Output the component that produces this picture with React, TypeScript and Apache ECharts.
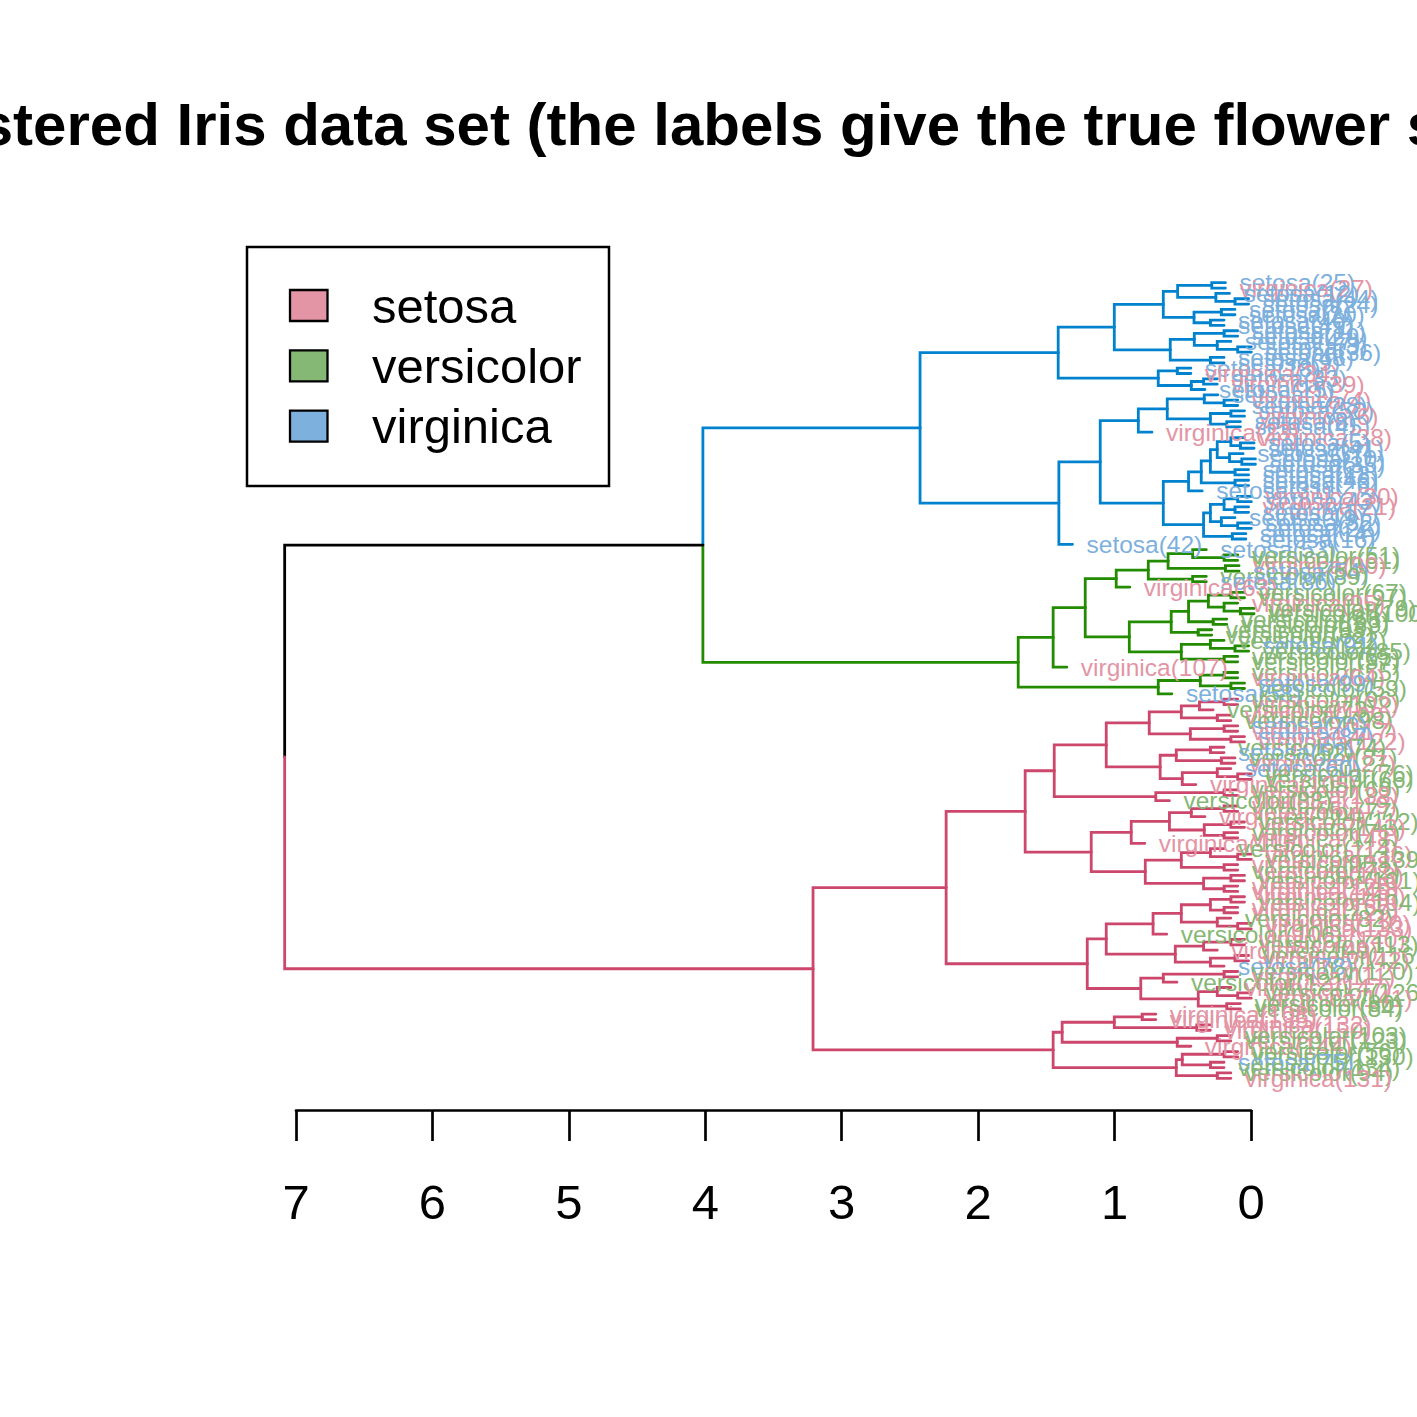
import React, { useRef, useEffect } from 'react'
import * as echarts from 'echarts'

// a node is [height, upper child, lower child]; a leaf is an index into leafLabels
type Tree = number | [number, Tree, Tree]

// leaf labels, top to bottom
const leafLabels = [
  'setosa(25)', 'virginica(27)', 'setosa(12)', 'setosa(44)', 'setosa(24)', 'setosa(7)', 'setosa(20)', 'setosa(40)', 'setosa(49)', 'setosa(11)',
  'setosa(29)', 'setosa(47)', 'setosa(3)', 'setosa(36)', 'setosa(48)', 'setosa(9)', 'setosa(18)', 'virginica(34)', 'setosa(33)', 'virginica(39)',
  'setosa(15)', 'setosa(1)', 'virginica(4)', 'setosa(28)', 'setosa(50)', 'virginica(6)', 'setosa(8)', 'setosa(45)', 'virginica(23)', 'virginica(38)',
  'setosa(5)', 'setosa(41)', 'setosa(37)', 'setosa(10)', 'setosa(35)', 'setosa(2)', 'setosa(13)', 'setosa(46)', 'setosa(26)', 'setosa(31)',
  'virginica(30)', 'setosa(43)', 'virginica(21)', 'setosa(17)', 'setosa(19)', 'setosa(32)', 'setosa(22)', 'setosa(14)', 'setosa(16)', 'setosa(42)',
  'setosa(53)', 'versicolor(51)', 'versicolor(61)', 'virginica(90)', 'setosa(54)', 'versicolor(89)', 'setosa(86)', 'virginica(63)', 'versicolor(67)', 'versicolor(97)',
  'virginica(95)', 'versicolor(79)', 'versicolor(100)', 'versicolor(68)', 'versicolor(83)', 'versicolor(93)', 'versicolor(62)', 'versicolor(92)', 'setosa(91)', 'versicolor(85)',
  'versicolor(65)', 'versicolor(57)', 'virginica(107)', 'versicolor(55)', 'virginica(64)', 'setosa(99)', 'versicolor(59)', 'setosa(58)',
  'versicolor(96)', 'virginica(102)', 'versicolor(73)', 'virginica(109)', 'versicolor(98)', 'setosa(70)', 'virginica(117)', 'setosa(87)', 'virginica(122)', 'versicolor(74)',
  'setosa(52)', 'versicolor(81)', 'virginica(127)', 'setosa(60)', 'versicolor(76)', 'versicolor(66)', 'virginica(105)', 'versicolor(69)', 'virginica(138)', 'versicolor(88)',
  'virginica(119)', 'versicolor(77)', 'virginica(124)', 'versicolor(112)', 'virginica(143)', 'versicolor(71)', 'virginica(148)', 'virginica(115)', 'versicolor(114)', 'virginica(136)',
  'versicolor(139)', 'virginica(128)', 'versicolor(72)', 'virginica(118)', 'versicolor(101)', 'virginica(125)', 'virginica(145)', 'virginica(146)', 'versicolor(104)', 'virginica(137)',
  'virginica(129)', 'versicolor(82)', 'virginica(110)', 'virginica(133)', 'versicolor(106)', 'virginica(140)', 'versicolor(113)', 'virginica(149)', 'versicolor(116)', 'virginica(142)',
  'setosa(78)', 'versicolor(120)', 'virginica(111)', 'versicolor(121)', 'virginica(147)', 'versicolor(126)', 'virginica(141)', 'versicolor(80)', 'versicolor(84)', 'virginica(108)',
  'virginica(135)', 'virginica(132)', 'virginica(150)', 'versicolor(103)', 'versicolor(123)', 'virginica(144)', 'versicolor(56)', 'versicolor(130)', 'setosa(75)', 'versicolor(134)',
  'versicolor(94)', 'virginica(131)',
]

// blue cluster (top)
const topCluster: Tree = [2.427,
  [1.415,
    [1.004,
      [0.645, [0.54, [0.29, 0, 1], [0.26, 2, [0.12, 3, 4]]], [0.42, [0.22, 5, 6], [0.3, 7, 8]]],
      [0.594, [0.418, [0.2, 9, 10], [0.25, 11, [0.1, 12, 13]]], [0.3, 14, 15]]],
    [0.682, [0.543, 16, 17], [0.44, [0.35, 18, 19], 20]]],
  [1.41,
    [1.107,
      [0.828, [0.616, [0.345, 21, [0.2, 22, 23]], [0.3, [0.15, 24, 25], [0.18, 26, 27]]], 28],
      [0.645,
        [0.46, [0.367, [0.3, [0.25, [0.15, 29, [0.08, 30, 31]], [0.16, 32, [0.07, 33, 34]]], [0.12, 35, 36]], [0.12, 37, 38]], 39],
        [0.35, [0.3, [0.2, [0.1, 40, 41], [0.12, 42, 43]], [0.22, 44, [0.1, 45, 46]]], [0.14, 47, 48]]]],
    49]]

// green cluster (middle)
const middleCluster: Tree = [1.708,
  [1.452,
    [1.217,
      [0.99, [0.755, [0.61, [0.43, 50, [0.2, 51, 52]], [0.19, 53, 54]], [0.43, 55, 56]], 57],
      [0.894,
        [0.587, [0.46, [0.315, [0.15, 58, 59], [0.2, 60, [0.08, 61, 62]]], [0.28, 63, 64]], [0.39, 65, 66]],
        [0.513, [0.3, 67, [0.12, 68, 69]], [0.2, 70, 71]]]],
    72],
  [0.682, [0.374, [0.2, 73, 74], [0.15, 75, 76]], 77]]

// pink cluster (bottom)
const bottomCluster: Tree = [3.211,
  [2.236,
    [1.657,
      [1.444,
        [1.063,
          [0.748, [0.513, [0.38, [0.2, 78, 79], 80], [0.25, 81, 82]], [0.447, [0.2, 83, 84], [0.15, 85, 86]]],
          [0.668, [0.55, [0.3, 87, 88], [0.22, 89, 90]], [0.506, [0.25, 91, [0.1, 92, 93]], 94]]],
        [0.7, [0.2, 95, 96], 97]],
      [1.173,
        [0.88, [0.6, [0.44, [0.2, 98, 99], 100], [0.345, [0.15, 101, 102], [0.2, 103, 104]]], 105],
        [0.777, [0.513, [0.3, 106, [0.1, 107, 108]], [0.2, 109, 110]], [0.35, [0.15, 111, 112], [0.2, 113, 114]]]]],
    [1.202,
      [1.063,
        [0.72, [0.513, [0.3, [0.15, 115, 116], [0.2, 117, 118]], [0.25, 119, [0.1, 120, 121]]], 122],
        [0.557, [0.35, [0.15, 123, 124], 125], [0.3, [0.12, 126, 127], 128]]],
      [0.81, [0.645, [0.2, 129, 130], 131], [0.389, [0.25, 132, [0.1, 133, 134]], [0.18, 135, 136]]]]],
  [1.452,
    [1.386, [1.004, [0.8, 137, 138], [0.4, 139, 140]], [0.543, [0.25, 141, 142], 143]],
    [0.55, [0.506, [0.2, 144, 145], [0.3, 146, 147]], [0.25, 148, 149]]]]

const upperNodeHeight = 4.018
const rootHeight = 7.082
const hangHeight = 0.1

const legendItems = ['setosa', 'versicolor', 'virginica']
const legendColors = ['#E495A5', '#86B875', '#7DB0DD']
const labelColors: Record<string, string> = { setosa: '#7DB0DD', versicolor: '#86B875', virginica: '#E495A5' }
// black, pink, green, blue
const branchColors = ['#000000', '#CC476B', '#228B00', '#0082CE']

const titleText = 'Clustered Iris data set (the labels give the true flower species)'
const font = '"Liberation Sans", Arial, Helvetica, sans-serif'

function layoutTree(node: Tree, parentH: number, colorIdx: number, edges: number[][], leaves: number[][]) {
  if (typeof node === 'number') {
    const h = parentH - hangHeight
    const y = leafLabels.length - node
    leaves.push([h, y, node])
    return { h, y }
  }
  const [h, a, b] = node
  const ca = layoutTree(a, h, colorIdx, edges, leaves)
  const cb = layoutTree(b, h, colorIdx, edges, leaves)
  const y = (ca.y + cb.y) / 2
  edges.push([h, y, ca.h, ca.y, colorIdx])
  edges.push([h, y, cb.h, cb.y, colorIdx])
  return { h, y }
}

function Dendrogram() {
  const chartRef = useRef<HTMLDivElement>(null)

  useEffect(() => {
    const chart = echarts.init(chartRef.current, null, { renderer: 'svg' })

    const edges: number[][] = []
    const leaves: number[][] = []
    const top = layoutTree(topCluster, upperNodeHeight, 3, edges, leaves)
    const mid = layoutTree(middleCluster, upperNodeHeight, 2, edges, leaves)
    const upperY = (top.y + mid.y) / 2
    edges.push([upperNodeHeight, upperY, top.h, top.y, 3])
    edges.push([upperNodeHeight, upperY, mid.h, mid.y, 2])
    const bottom = layoutTree(bottomCluster, rootHeight, 1, edges, leaves)
    const rootY = (upperY + bottom.y) / 2
    edges.push([rootHeight, rootY, upperNodeHeight, upperY, 0])
    edges.push([rootHeight, rootY, bottom.h, bottom.y, 1])

    const n = leafLabels.length
    const pad = rootHeight * 0.04

    const legendGraphics: any[] = [
      { type: 'rect', shape: { x: 247, y: 247, width: 362, height: 239 }, style: { fill: '#fff', stroke: '#000', lineWidth: 2.5 } },
    ]
    legendItems.forEach((name, i) => {
      const cy = 305.5 + i * 60.3
      legendGraphics.push({
        type: 'rect',
        shape: { x: 290, y: cy - 15.5, width: 37.5, height: 31 },
        style: { fill: legendColors[i], stroke: '#000', lineWidth: 2.3 },
      })
      legendGraphics.push({
        type: 'text',
        x: 372,
        y: cy,
        style: { text: name, fill: '#000', fontSize: 49, fontFamily: font, align: 'left', verticalAlign: 'middle' },
      })
    })

    const option = {
      animation: false,
      backgroundColor: '#ffffff',
      grid: [
        { left: 246, top: 248, width: 1044, height: 865 },
        { left: 296, top: 1100, width: 955, height: 10 },
      ],
      xAxis: [
        { gridIndex: 0, type: 'value', min: -pad, max: rootHeight + pad, inverse: true, show: false },
        {
          gridIndex: 1,
          type: 'value',
          min: 0,
          max: 7,
          interval: 1,
          inverse: true,
          position: 'bottom',
          axisLine: { onZero: false, lineStyle: { color: '#000', width: 2.7 } },
          axisTick: { length: 31, lineStyle: { color: '#000', width: 2.7 } },
          axisLabel: { color: '#000', fontSize: 49, fontFamily: font, margin: 67, showMinLabel: true, showMaxLabel: true },
          splitLine: { show: false },
        },
      ],
      yAxis: [
        { gridIndex: 0, type: 'value', min: -5.5, max: n + 6.5, show: false },
        { gridIndex: 1, type: 'value', min: 0, max: 1, show: false },
      ],
      graphic: {
        elements: [
          {
            type: 'text',
            x: 765,
            y: 124,
            style: { text: titleText, fill: '#000', fontSize: 60, fontWeight: 'bold', fontFamily: font, align: 'center', verticalAlign: 'middle' },
          },
          ...legendGraphics,
        ],
      },
      series: [
        {
          type: 'custom',
          coordinateSystem: 'cartesian2d',
          xAxisIndex: 0,
          yAxisIndex: 0,
          silent: true,
          clip: false,
          encode: { x: [0, 2], y: [1, 3] },
          data: edges,
          renderItem: (params: any, api: any) => {
            const p0 = api.coord([api.value(0), api.value(1)])
            const p1 = api.coord([api.value(0), api.value(3)])
            const p2 = api.coord([api.value(2), api.value(3)])
            return {
              type: 'polyline',
              shape: { points: [p0, p1, p2] },
              style: { stroke: branchColors[api.value(4)], lineWidth: 2.8, fill: 'none', lineCap: 'round' },
            }
          },
        },
        {
          type: 'custom',
          coordinateSystem: 'cartesian2d',
          xAxisIndex: 0,
          yAxisIndex: 0,
          silent: true,
          clip: false,
          encode: { x: 0, y: 1 },
          data: leaves,
          renderItem: (params: any, api: any) => {
            const p = api.coord([api.value(0), api.value(1)])
            const text = leafLabels[api.value(2)]
            const species = text.split('(')[0]
            return {
              type: 'text',
              x: p[0] + 14,
              y: p[1],
              style: { text, fill: labelColors[species], fontSize: 24.5, fontFamily: font, align: 'left', verticalAlign: 'middle' },
            }
          },
        },
      ],
    }

    chart.setOption(option)

    return () => {
      chart.dispose()
    }
  }, [])

  return (
    <div
      ref={chartRef}
      style={{ position: 'absolute', left: 0, top: 0, width: 1417, height: 1417, background: '#fff' }}
    ></div>
  )
}

export default function App() {
  return <Dendrogram />
}
